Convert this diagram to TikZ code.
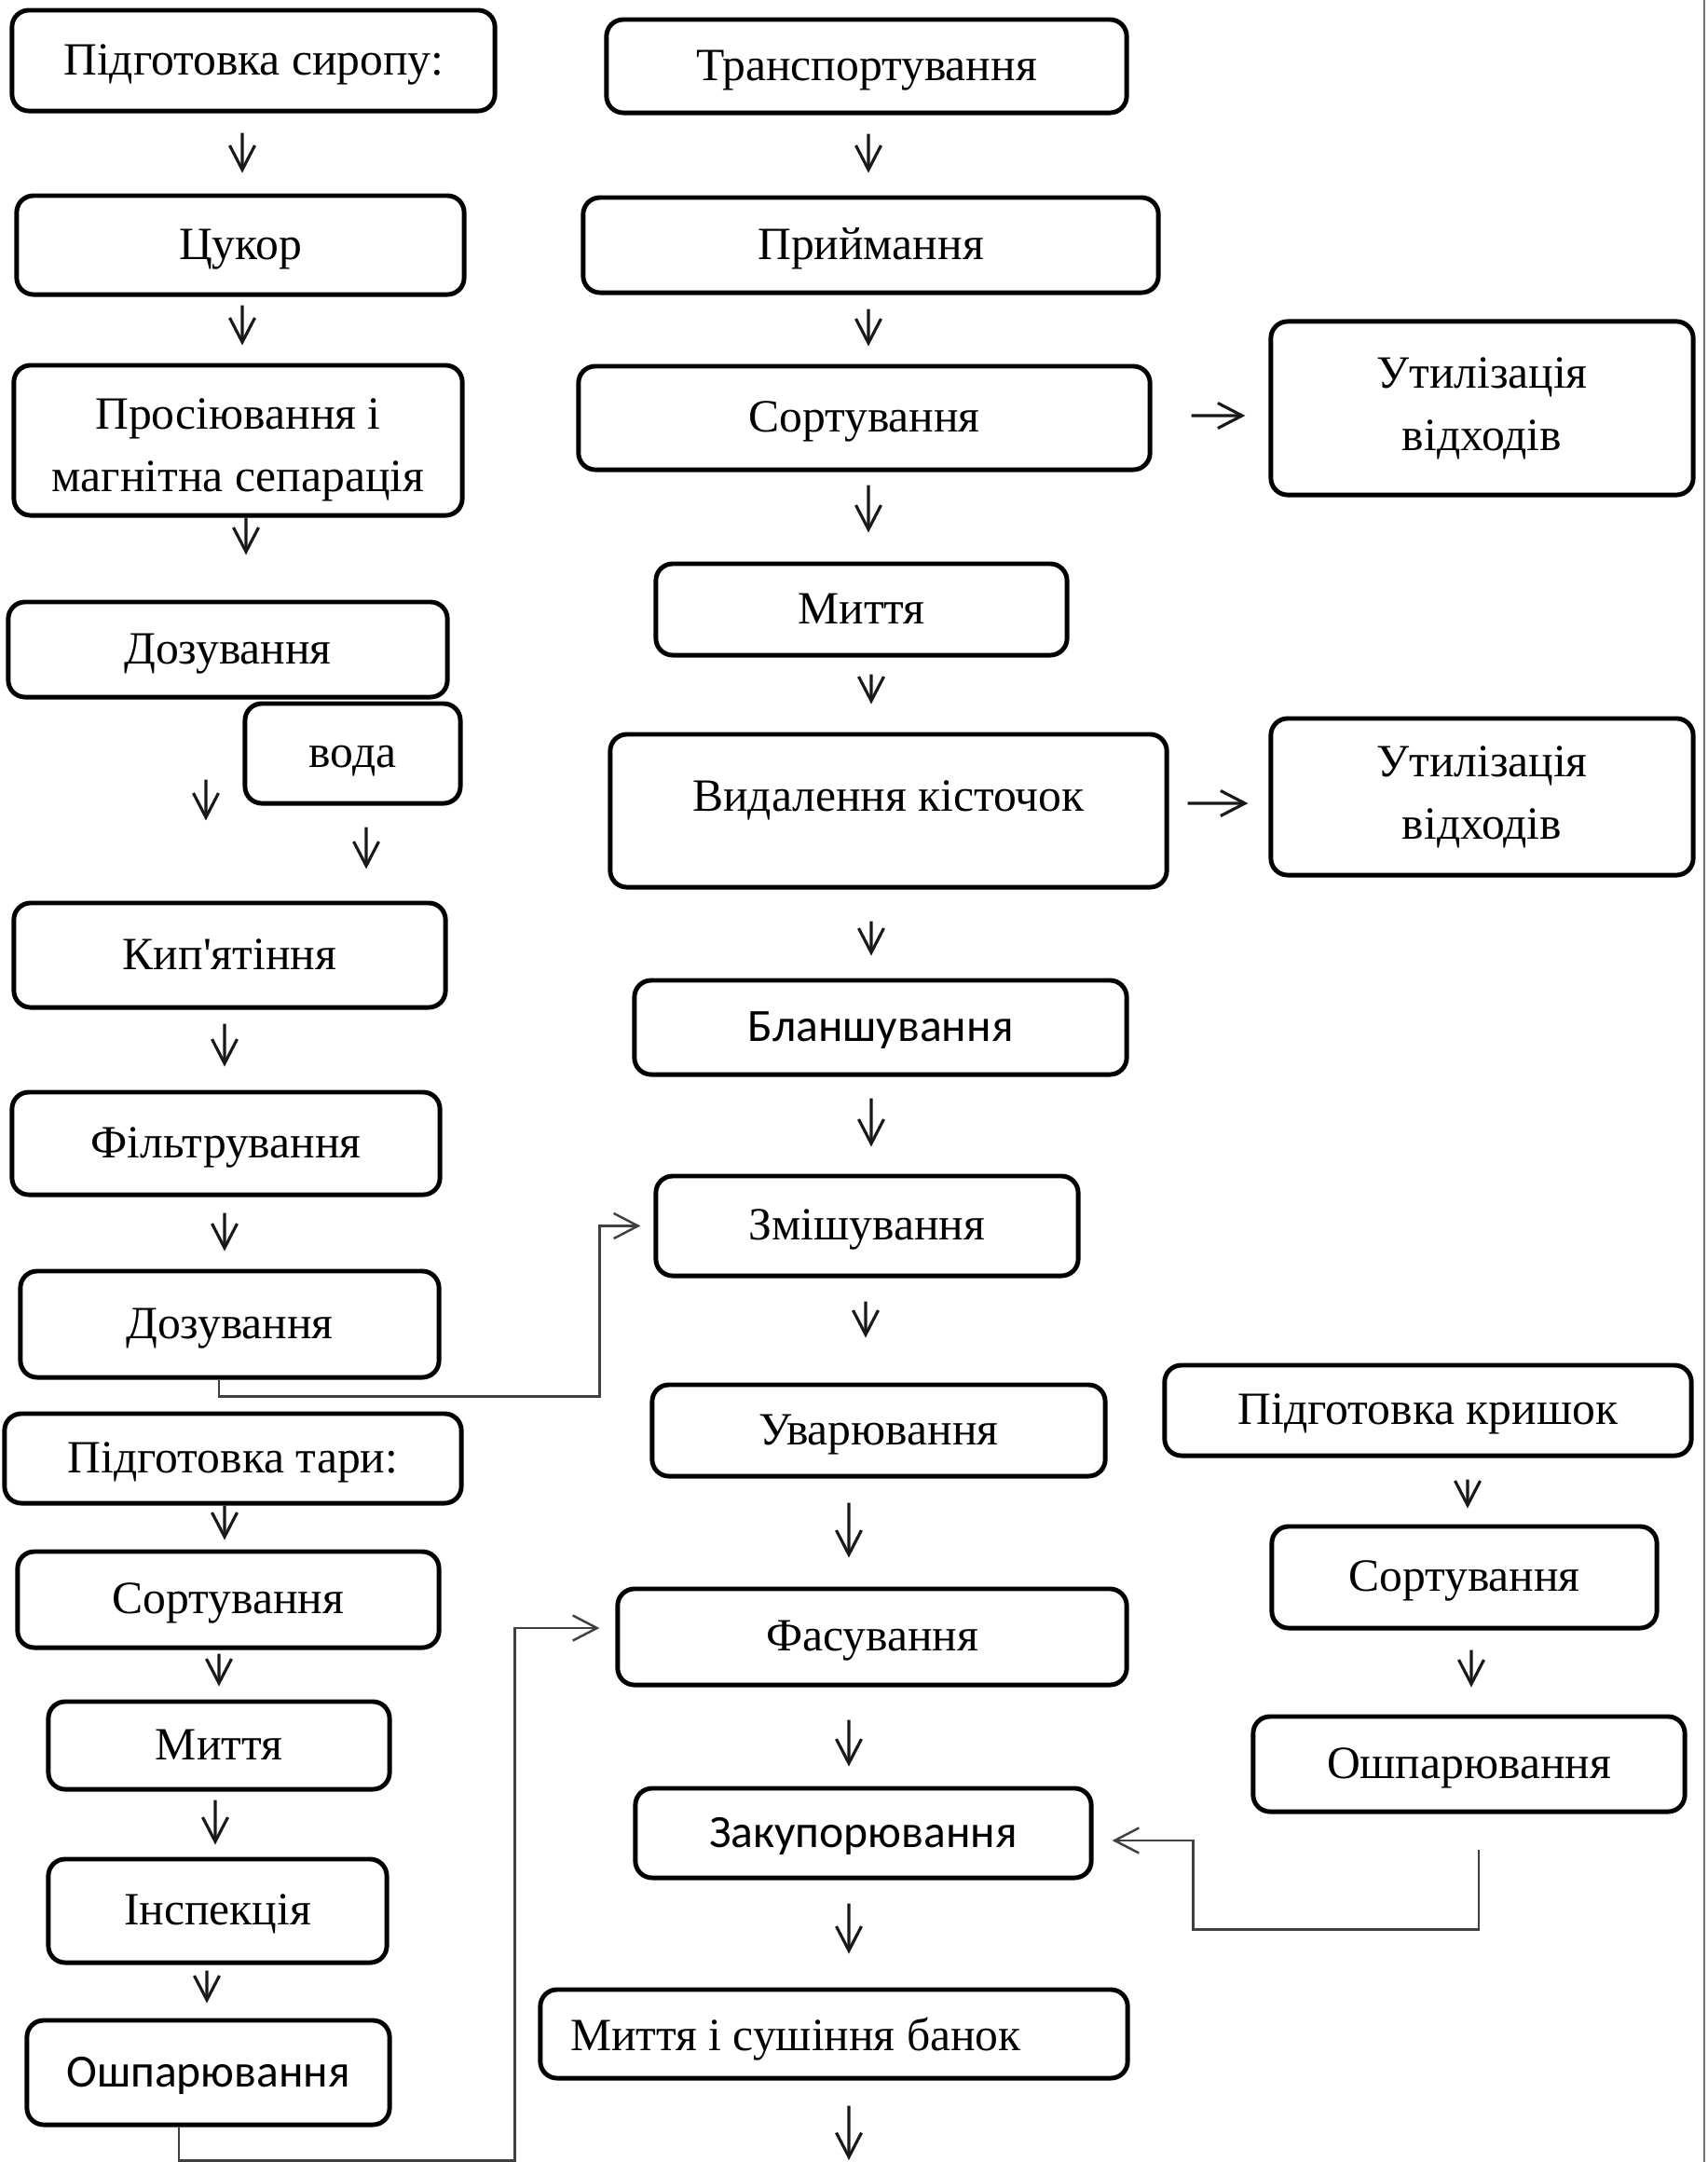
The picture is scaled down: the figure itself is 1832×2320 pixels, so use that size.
\documentclass[tikz,border=0pt]{standalone}
\usepackage{fontspec}
\setmainfont{Liberation Serif}
\newfontfamily\calfont{Carlito}
\newfontfamily\aposfont{Liberation Serif}
\usetikzlibrary{arrows.meta}
\newcommand\myfs{\fontsize{14.1pt}{19pt}\selectfont}
\tikzset{
  boxm/.style={draw=black, line width=1.4pt, rounded corners=0.18cm, inner sep=0pt, align=center, font=\myfs},
  box/.style={boxm, text height=0.40cm, text depth=0.10cm},
  txt/.style={inner sep=0pt, align=center, font=\myfs},
  arr/.style={line width=0.9pt, draw=black!90, -{Straight Barb[length=0.26cm,width=0.27cm]}},
  conn/.style={line width=0.7pt, draw=black!75, -{Straight Barb[length=0.26cm,width=0.27cm]}}
}
\begin{document}
\begin{tikzpicture}[x=0.01cm, y=-0.01cm]
\fill[white] (0,0) rectangle (1832,2320);
\path[use as bounding box] (0,0) rectangle (1832,2320);
\draw[black!55, line width=0.6pt] (1829,0) -- (1829,2320);

% left column: syrup
\node[box, minimum width=5.18cm, minimum height=1.08cm] (A1) at (272,65) {Підготовка сиропу:};
\node[box, minimum width=4.80cm, minimum height=1.06cm] (A2) at (258,263) {Цукор};
\node[boxm, minimum width=4.81cm, minimum height=1.61cm] (A3) at (255.5,472.5) {};
\node[txt] (A3t) at ([yshift=-0.105cm]A3.center) {Просіювання і\\магнітна сепарація};
\node[box, minimum width=4.71cm, minimum height=1.02cm] (A4) at (244.5,697) {Дозування};
\node[box, minimum width=2.31cm, minimum height=1.07cm] (A5) at (378.5,808.5) {вода};
\node[box, minimum width=4.63cm, minimum height=1.12cm] (A6) at (246.5,1025) {Кип{\aposfont'}ятіння};
\node[box, minimum width=4.59cm, minimum height=1.10cm] (A7) at (242.5,1227) {Фільтрування};
\node[box, minimum width=4.49cm, minimum height=1.14cm] (A8) at (246.5,1421) {Дозування};

% left column: containers
\node[box, minimum width=4.90cm, minimum height=0.96cm] (B1) at (250,1565) {Підготовка тари:};
\node[box, minimum width=4.52cm, minimum height=1.03cm] (B2) at (245,1716.5) {Сортування};
\node[box, minimum width=3.66cm, minimum height=0.94cm] (B3) at (235,1873) {Миття};
\node[box, minimum width=3.63cm, minimum height=1.11cm] (B4) at (233.5,2050.5) {Інспекція};
\node[box, minimum width=3.89cm, minimum height=1.12cm] (B5) at (223.5,2224) {{\calfont Ошпарювання}};

% middle column
\node[box, minimum width=5.58cm, minimum height=1.00cm] (C1) at (930,71) {Транспортування};
\node[box, minimum width=6.17cm, minimum height=1.02cm] (C2) at (934.5,263) {Приймання};
\node[box, minimum width=6.13cm, minimum height=1.11cm] (C3) at (927.5,448.5) {Сортування};
\node[box, minimum width=4.41cm, minimum height=0.98cm] (C4) at (924.5,654) {Миття};
\node[boxm, minimum width=5.97cm, minimum height=1.64cm] (C5) at (953.5,870) {};
\node[txt, text height=0.40cm, text depth=0.10cm] (C5t) at ([yshift=0.15cm]C5.center) {Видалення кісточок};
\node[box, minimum width=5.28cm, minimum height=1.01cm] (C6) at (945,1102.5) {{\calfont Бланшування}};
\node[box, minimum width=4.53cm, minimum height=1.07cm] (C7) at (930.5,1315.5) {Змішування};
\node[box, minimum width=4.86cm, minimum height=0.98cm] (C8) at (943,1535) {Уварювання};
\node[box, minimum width=5.46cm, minimum height=1.03cm] (C9) at (936,1756.5) {Фасування};
\node[box, minimum width=4.89cm, minimum height=0.96cm] (C10) at (926.5,1967) {{\calfont Закупорювання}};
\node[boxm, minimum width=6.30cm, minimum height=0.95cm] (C11) at (895,2182.5) {};
\node[txt, anchor=west, text height=0.40cm, text depth=0.10cm] (C11t) at ([xshift=0.34cm,yshift=-0.03cm]C11.west) {Миття і сушіння банок};
\coordinate (endc) at (911,2318);

% right column
\node[boxm, minimum width=4.53cm, minimum height=1.86cm] (U1) at (1590.5,438) {Утилізація\\відходів};
\node[boxm, minimum width=4.53cm, minimum height=1.68cm] (U2) at (1590.5,855) {Утилізація\\відходів};
\node[box, minimum width=5.65cm, minimum height=0.97cm] (D1) at (1532.5,1513.5) {Підготовка кришок};
\node[box, minimum width=4.13cm, minimum height=1.09cm] (D2) at (1571.5,1692.5) {Сортування};
\node[box, minimum width=4.63cm, minimum height=1.02cm] (D3) at (1576.5,1893) {Ошпарювання};

% arrows, left
\draw[arr, shorten <=0.21cm, shorten >=0.22cm] ([xshift=-0.12cm]A1.south) -- ([xshift=0.02cm]A2.north);
\draw[arr, shorten <=0.09cm, shorten >=0.19cm] ([xshift=0.02cm]A2.south) -- ([xshift=0.045cm]A3.north);
\draw[arr, shorten >=0.48cm] ([xshift=0.085cm]A3.south) -- ([xshift=0.195cm]A4.north);
\draw[arr, shorten <=0.86cm, shorten >=0.86cm] ([xshift=-0.235cm]A4.south) -- ([xshift=-0.255cm]A6.north);
\draw[arr, shorten <=0.23cm, shorten >=0.34cm] ([xshift=0.145cm]A5.south) -- ([xshift=1.465cm]A6.north);
\draw[arr, shorten <=0.15cm, shorten >=0.25cm] ([xshift=-0.055cm]A6.south) -- ([xshift=-0.015cm]A7.north);
\draw[arr, shorten <=0.17cm, shorten >=0.19cm] ([xshift=-0.015cm]A7.south) -- ([xshift=-0.055cm]A8.north);
\draw[conn] ([xshift=-0.115cm]A8.south) -- ++(0,18) -| ([xshift=-0.58cm]C7.west) -- ([xshift=-0.14cm]C7.west);

\draw[arr, shorten >=0.10cm] ([xshift=-0.09cm]B1.south) -- ([xshift=-0.04cm]B2.north);
\draw[arr, shorten <=0.04cm, shorten >=0.14cm] ([xshift=-0.10cm]B2.south) -- (B3.north);
\draw[arr, shorten <=0.09cm, shorten >=0.13cm] ([xshift=-0.04cm]B3.south) -- ([xshift=-0.025cm]B4.north);
\draw[arr, shorten <=0.06cm, shorten >=0.16cm] ([xshift=-0.115cm]B4.south) -- ([xshift=-0.015cm]B5.north);
\draw[conn] ([xshift=-0.315cm]B5.south) -- ++(0,36) -| ([xshift=-1.08cm,yshift=0.095cm]C9.west) -- ([xshift=-0.17cm,yshift=0.095cm]C9.west);

% arrows, middle
\draw[arr, shorten <=0.20cm, shorten >=0.24cm] ([xshift=0.02cm]C1.south) -- ([xshift=-0.025cm]C2.north);
\draw[arr, shorten <=0.15cm, shorten >=0.19cm] ([xshift=-0.025cm]C2.south) -- ([xshift=0.045cm]C3.north);
\draw[arr, shorten <=0.42cm, shorten >=0.25cm] ([yshift=0.025cm]C3.east) -- ([yshift=-0.08cm]U1.west);
\draw[arr, shorten <=0.14cm, shorten >=0.31cm] ([xshift=0.045cm]C3.south) -- ([xshift=0.075cm]C4.north);
\draw[arr, shorten <=0.18cm, shorten >=0.30cm] ([xshift=0.105cm]C4.south) -- ([xshift=-0.185cm]C5.north);
\draw[arr, shorten <=0.20cm, shorten >=0.22cm] ([yshift=0.08cm]C5.east) -- ([yshift=-0.07cm]U2.west);
\draw[arr, shorten <=0.34cm, shorten >=0.24cm] ([xshift=-0.185cm]C5.south) -- ([xshift=-0.10cm]C6.north);
\draw[arr, shorten <=0.23cm, shorten >=0.29cm] ([xshift=-0.10cm]C6.south) -- ([xshift=0.045cm]C7.north);
\draw[arr, shorten <=0.25cm, shorten >=0.48cm] ([xshift=-0.015cm]C7.south) -- ([xshift=-0.14cm]C8.north);
\draw[arr, shorten <=0.26cm, shorten >=0.31cm] ([xshift=-0.32cm]C8.south) -- ([xshift=-0.25cm]C9.north);
\draw[arr, shorten <=0.35cm, shorten >=0.21cm] ([xshift=-0.25cm]C9.south) -- ([xshift=-0.155cm]C10.north);
\draw[arr, shorten <=0.25cm, shorten >=0.36cm] ([xshift=-0.155cm]C10.south) -- ([xshift=0.16cm]C11.north);
\draw[arr, shorten <=0.27cm] ([xshift=0.16cm]C11.south) -- (endc);

% arrows, lids
\draw[arr, shorten <=0.23cm, shorten >=0.17cm] ([xshift=0.425cm]D1.south) -- ([xshift=0.035cm]D2.north);
\draw[arr, shorten <=0.21cm, shorten >=0.29cm] ([xshift=0.075cm]D2.south) -- ([xshift=0.025cm]D3.north);
\draw[conn] ([xshift=0.105cm,yshift=-0.38cm]D3.south) -- ++(0,86) -| ([xshift=1.07cm,yshift=-0.08cm]C10.east) -- ([xshift=0.2cm,yshift=-0.08cm]C10.east);
\end{tikzpicture}
\end{document}
